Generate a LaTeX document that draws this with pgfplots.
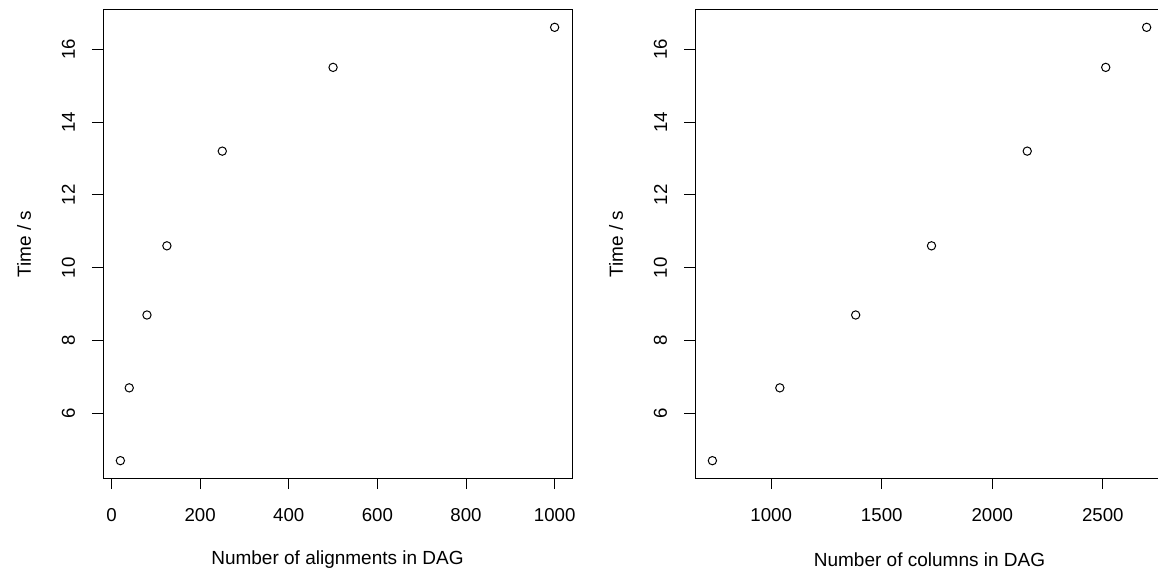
\documentclass[border=0pt]{standalone}
\usepackage{pgfplots}
\pgfplotsset{compat=1.18}
\usepackage{fontspec}
\setmainfont{Liberation Sans}
\begin{document}
\begin{tikzpicture}
\pgfplotsset{
  rbase/.style={
    scale only axis, anchor=south west,
    width=281.4pt, height=280.8pt,
    axis line style={line width=0.6pt},
    tick style={line width=0.6pt, black},
    major tick length=6.6pt, tick align=outside,
    xtick pos=bottom, ytick pos=left,
    /pgf/number format/assume math mode=true,
    /pgf/number format/1000 sep={},
    scaled ticks=false,
    ymin=4.224, ymax=17.076, ytick={6,8,10,12,14,16},
    tick label style={font=\fontsize{11.2}{13.4}\selectfont, inner sep=0pt},
    xticklabel style={anchor=north, yshift=-11.6pt},
    yticklabel style={xshift=-10pt, rotate=90, anchor=south},
    label style={font=\fontsize{11.4}{13.6}\selectfont},
    xlabel style={at={(axis description cs:0.5,-0.1752)}, anchor=center},
    ylabel style={at={(axis description cs:-0.1684,0.5)}, anchor=center, rotate=0},
    ylabel={Time / s},
  },
}
\begin{axis}[rbase, at={(61.8pt,58.2pt)},
  xmin=-19.2, xmax=1039.2, xtick={0,200,400,600,800,1000},
  xlabel={Number of alignments in DAG}]
\addplot[only marks, mark=o, mark size=2.5pt, mark options={line width=0.6pt}, black]
  coordinates {(20,4.7) (40,6.7) (80,8.7) (125,10.6) (250,13.2) (500,15.5) (1000,16.6)};
\end{axis}
\begin{axis}[rbase, at={(417pt,58.2pt)},
  xmin=655.4, xmax=2776.6, xtick={1000,1500,2000,2500},
  xlabel={Number of columns in DAG}]
\addplot[only marks, mark=o, mark size=2.5pt, mark options={line width=0.6pt}, black]
  coordinates {(734,4.7) (1039,6.7) (1382,8.7) (1725,10.6) (2158,13.2) (2513,15.5) (2698,16.6)};
\end{axis}
\pgfresetboundingbox
\useasboundingbox (0,0) rectangle (694.8pt,345pt);
\end{tikzpicture}
\end{document}
